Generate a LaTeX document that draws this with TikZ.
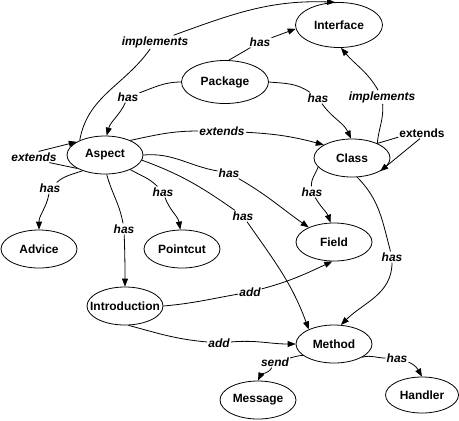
\documentclass[tikz,border=0pt]{standalone}
\usepackage{fontspec}
\setmainfont{Liberation Sans}
\usetikzlibrary{shapes.geometric,arrows.meta}
\newcommand{\nt}[1]{\makebox[0pt]{#1}}
\begin{document}
\begin{tikzpicture}[x=1bp,y=1bp,
  ent/.style={ellipse,draw,line width=0.8bp,minimum width=76bp,minimum height=38bp,inner sep=0pt,font=\fontsize{12}{14}\selectfont\bfseries},
  lbl/.style={inner sep=1bp,font=\fontsize{12}{14}\selectfont\bfseries\itshape},
  lblup/.style={inner sep=1bp,font=\fontsize{12}{14}\selectfont\bfseries},
  con/.style={line width=0.8bp},
  arr/.style={con,-{Triangle[length=8bp,width=6bp]}}]
\useasboundingbox (0,0) rectangle (459,-420);
% entities
\node[ent,minimum width=87bp,minimum height=45bp] (Interface) at (339,-25) {\nt{Interface}};
\node[ent,minimum width=87bp,minimum height=43bp] (Package) at (225,-82) {\nt{Package}};
\node[ent] (Aspect) at (105,-155) {\nt{Aspect}};
\node[ent] (Class) at (352,-158) {\nt{Class}};
\node[ent] (Advice) at (39,-249) {\nt{Advice}};
\node[ent] (Pointcut) at (182,-249) {\nt{Pointcut}};
\node[ent] (Field) at (334,-242) {\nt{Field}};
\node[ent] (Introduction) at (125,-306) {\nt{Introduction}};
\node[ent] (Method) at (334,-344) {\nt{Method}};
\node[ent] (Message) at (258,-400) {\nt{Message}};
\node[ent,minimum width=73bp,minimum height=36bp] (Handler) at (422,-395) {\nt{Handler}};
% labels
\node[lbl] (l1) at (155,-42) {implements};
\node[lbl] (l2) at (260,-42) {has};
\node[lbl] (l3) at (128,-97) {has};
\node[lbl] (l4) at (318,-98) {has};
\node[lbl] (l5) at (382,-97) {implements};
\node[lbl] (l6) at (34,-157) {extends};
\node[lblup] (l7) at (422,-133) {extends};
\node[lbl] (l8) at (222,-131) {extends};
\node[lbl] (l9) at (229,-173) {has};
\node[lbl] (l10) at (243,-216) {has};
\node[lbl] (l11) at (50,-188) {has};
\node[lbl] (l12) at (163,-192) {has};
\node[lbl] (l13) at (124,-229) {has};
\node[lbl] (l14) at (312,-192) {has};
\node[lbl] (l15) at (392,-257) {has};
\node[lbl] (l16) at (250,-292) {add};
\node[lbl] (l17) at (219,-343) {add};
\node[lbl] (l18) at (275,-362) {send};
\node[lbl] (l19) at (397,-358) {has};
% connectors
\draw[con] (Aspect.150) to[out=80,in=-125] (l1);
\draw[arr] (l1) to[out=20,in=178] (Interface.100);
\draw[con] (Package.80) -- (l2);
\draw[arr] (l2) -- (Interface.185);
\draw[con] (Package.west) to[out=180,in=20] (l3);
\draw[arr] (l3) to[out=-115,in=75] (Aspect.85);
\draw[con] (Package.east) to[out=-5,in=145] (l4);
\draw[arr] (l4) to[out=-55,in=115] (Class.93);
\draw[con] (Class.30) to[out=85,in=-85] (l5);
\draw[arr] (l5) to[out=120,in=-50] (Interface.-85);
\draw[con] (Aspect.206) -- (l6.-20);
\draw[arr] (l6.50) -- (Aspect.155);
\draw[con] (Class.30) -- (l7.190);
\draw[arr] (l7.-110) -- (Class.-25);
\draw[con] (Aspect.30) to[out=12,in=180] (l8);
\draw[arr] (l8) to[out=-3,in=165] (Class.155);
\draw[con] (Aspect.east) to[out=5,in=170] (l9);
\draw[arr] (l9) to[out=-30,in=145] (Field.150);
\draw[con] (Aspect.-8) to[out=-20,in=145] (l10);
\draw[arr] (l10) to[out=-55,in=110] (Method.150);
\draw[con] (Aspect.215) to[out=200,in=40] (l11);
\draw[arr] (l11) to[out=-100,in=90] (Advice.north);
\draw[con] (Aspect.-30) to[out=-30,in=135] (l12);
\draw[arr] (l12) to[out=-70,in=100] (Pointcut.95);
\draw[con] (Aspect.-85) to[out=-75,in=100] (l13);
\draw[arr] (l13) to[out=-88,in=90] (Introduction.north);
\draw[con] (Class.-165) to[out=-110,in=95] (l14);
\draw[arr] (l14) to[out=-60,in=110] (Field.100);
\draw[con] (Class.-75) to[out=-45,in=105] (l15);
\draw[arr] (l15) to[out=-90,in=45] (Method.70);
\draw[con] (Introduction.east) to[out=5,in=-170] (l16);
\draw[arr] (l16) to[out=15,in=-155] (Field.-95);
\draw[con] (Introduction.-80) to[out=-15,in=175] (l17);
\draw[arr] (l17) to[out=5,in=180] (Method.west);
\draw[con] (Method.-160) to[out=185,in=15] (l18);
\draw[arr] (l18) to[out=-120,in=65] (Message.north);
\draw[con] (Method.-25) to[out=15,in=180] (l19);
\draw[arr] (l19) to[out=-20,in=120] (Handler.north);
\end{tikzpicture}
\end{document}
